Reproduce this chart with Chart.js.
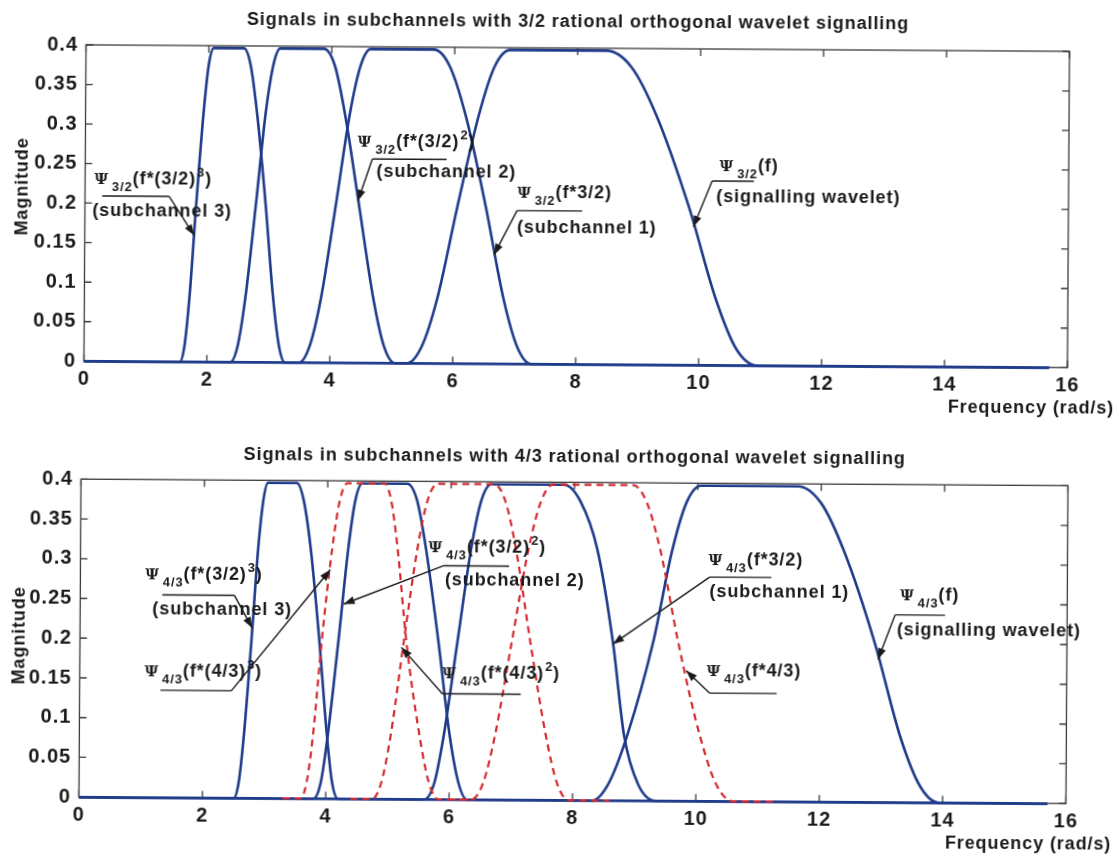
<!DOCTYPE html>
<html>
<head>
<meta charset="utf-8">
<script src="https://cdn.jsdelivr.net/npm/chart.js@4.4.1/dist/chart.umd.min.js"></script>
<style>
  html, body { margin: 0; background: #fff; }
  #page { position: relative; width: 1119px; height: 857px; transform: rotate(0.38deg); transform-origin: 559px 428px; }
  #page canvas { position: absolute; left: 0; }
  #c-top { top: 0; }
  #c-bot { top: 430px; }
</style>
</head>
<body>
<div id="page">
  <canvas id="c-top" width="1119" height="420"></canvas>
  <canvas id="c-bot" width="1119" height="427"></canvas>
</div>
<script>
// axis ticks
const freqTicks = [0, 2, 4, 6, 8, 10, 12, 14, 16];
const magTicks = [0, 0.05, 0.1, 0.15, 0.2, 0.25, 0.3, 0.35, 0.4];

// magnitude at each sample point (same wavelet shape for every curve)
const shapeMag = [0, 0, 0.021, 0.082, 0.199, 0.315, 0.376, 0.397, 0.397, 0.376, 0.315, 0.199, 0.082, 0.021, 0, 0];

// top plot, 3/2 rational wavelet (frequency of each sample)
const top32Sub3 = [0, 1.56, 1.635, 1.71, 1.81, 1.92, 2.00, 2.08, 2.57, 2.68, 2.79, 2.94, 3.07, 3.17, 3.27, 15.7];
const top32Sub2 = [0, 2.38, 2.50, 2.62, 2.78, 2.93, 3.05, 3.16, 3.87, 4.05, 4.22, 4.46, 4.70, 4.88, 5.06, 15.7];
const top32Sub1 = [0, 3.50, 3.67, 3.85, 4.08, 4.30, 4.47, 4.63, 5.66, 5.92, 6.18, 6.52, 6.82, 7.05, 7.28, 15.7];
const top32Sig  = [0, 5.25, 5.49, 5.74, 6.06, 6.40, 6.65, 6.90, 8.47, 8.88, 9.29, 9.83, 10.28, 10.61, 10.95, 15.7];

// bottom plot, 4/3 rational wavelet
const bot43Sub3 = [0, 2.51, 2.59, 2.67, 2.78, 2.88, 2.96, 3.03, 3.50, 3.61, 3.73, 3.88, 4.01, 4.10, 4.20, 15.7];
const bot43Sub2 = [0, 3.80, 3.92, 4.03, 4.19, 4.34, 4.45, 4.56, 5.29, 5.45, 5.60, 5.81, 6.00, 6.15, 6.29, 15.7];
const bot43Sub1 = [0, 5.60, 5.76, 5.91, 6.12, 6.33, 6.49, 6.65, 7.83, 8.10, 8.38, 8.64, 8.83, 9.06, 9.35, 15.7];
const bot43Sig  = [0, 8.32, 8.58, 8.88, 9.29, 9.59, 9.82, 10.05, 11.62, 12.00, 12.38, 12.89, 13.31, 13.63, 13.94, 15.7];
const bot43Red3 = [3.30, 3.59, 3.69, 3.79, 3.92, 4.08, 4.20, 4.32, 4.92, 5.03, 5.14, 5.29, 5.51, 5.67, 5.83, 6.40];
const bot43Red2 = [4.40, 4.75, 4.90, 5.05, 5.25, 5.46, 5.62, 5.78, 6.70, 6.88, 7.06, 7.30, 7.56, 7.75, 7.94, 8.60];
const bot43Red1 = [6.00, 6.36, 6.55, 6.74, 7.00, 7.26, 7.46, 7.65, 8.95, 9.17, 9.40, 9.70, 10.06, 10.33, 10.60, 11.30];

const BLUE = '#1f3b8a';
const RED = '#d42a30';
const INK = '#1a1a1a';
const FAMILY = '"Liberation Sans", Arial, sans-serif';
const MAIN_FONT = 'bold 18px ' + FAMILY;
const SMALL_FONT = 'bold 13px ' + FAMILY;
const PSI_FONT = 'bold 15px "DejaVu Serif", serif';

// curve labels: text pieces, anchor, underline, arrow tip (all in data units)
const topNotes = [
  { parts: [['Ψ', 'psi'], ['3/2', 'sub'], ['(f*(3/2)', ''], ['3', 'sup'], [')', '']], at: [0.15, 0.224],
    line2: '(subchannel 3)', at2: [0.12, 0.184], ul: [0.28, 1.37, 0.209], from: 'right', tip: [1.78, 0.16] },
  { parts: [['Ψ', 'psi'], ['3/2', 'sub'], ['(f*(3/2)', ''], ['2', 'sup'], [')', '']], at: [4.43, 0.273],
    line2: '(subchannel 2)', at2: [4.74, 0.235], ul: [4.67, 5.88, 0.258], from: 'left', tip: [4.44, 0.205] },
  { parts: [['Ψ', 'psi'], ['3/2', 'sub'], ['(f*3/2)', '']], at: [7.03, 0.21],
    line2: '(subchannel 1)', at2: [7.03, 0.166], ul: [7.03, 8.09, 0.194], from: 'left', tip: [6.66, 0.138] },
  { parts: [['Ψ', 'psi'], ['3/2', 'sub'], ['(f)', '']], at: [10.32, 0.246],
    line2: '(signalling wavelet)', at2: [10.27, 0.207], ul: [10.2, 10.88, 0.233], from: 'left', tip: [9.9, 0.175] }
];
const botNotes = [
  { parts: [['Ψ', 'psi'], ['4/3', 'sub'], ['(f*(3/2)', ''], ['3', 'sup'], [')', '']], at: [1.05, 0.275],
    line2: '(subchannel 3)', at2: [1.17, 0.231], ul: [1.33, 2.50, 0.255], from: 'right', tip: [2.79, 0.214] },
  { parts: [['Ψ', 'psi'], ['4/3', 'sub'], ['(f*(4/3)', ''], ['3', 'sup'], [')', '']], at: [1.05, 0.153],
    ul: [1.31, 2.46, 0.135], from: 'right', tip: [4.05, 0.288] },
  { parts: [['Ψ', 'psi'], ['4/3', 'sub'], ['(f*(3/2)', ''], ['2', 'sup'], [')', '']], at: [5.64, 0.311],
    line2: '(subchannel 2)', at2: [5.91, 0.27], ul: [5.88, 6.95, 0.294], from: 'left', tip: [4.27, 0.245] },
  { parts: [['Ψ', 'psi'], ['4/3', 'sub'], ['(f*(4/3)', ''], ['2', 'sup'], [')', '']], at: [5.88, 0.153],
    ul: [5.88, 7.15, 0.133], from: 'left', tip: [5.21, 0.191] },
  { parts: [['Ψ', 'psi'], ['4/3', 'sub'], ['(f*3/2)', '']], at: [10.18, 0.297],
    line2: '(subchannel 1)', at2: [10.2, 0.257], ul: [10.2, 11.2, 0.282], from: 'left', tip: [8.64, 0.197] },
  { parts: [['Ψ', 'psi'], ['4/3', 'sub'], ['(f*4/3)', '']], at: [10.16, 0.158],
    ul: [10.21, 11.30, 0.136], from: 'left', tip: [9.83, 0.164] },
  { parts: [['Ψ', 'psi'], ['4/3', 'sub'], ['(f)', '']], at: [13.29, 0.254],
    line2: '(signalling wavelet)', at2: [13.24, 0.21], ul: [13.21, 14.02, 0.236], from: 'left', tip: [12.94, 0.18] }
];

function curve(freqs, dashed) {
  return {
    data: freqs.map((f, i) => ({ x: f, y: shapeMag[i] })),
    borderColor: dashed ? RED : BLUE,
    borderWidth: dashed ? 2.2 : 2.6,
    borderDash: dashed ? [7, 5] : [],
    pointRadius: 0,
    cubicInterpolationMode: 'monotone',
    fill: false,
    clip: false,
    order: dashed ? 0 : 1
  };
}

function drawParts(ctx, x, y, parts) {
  let cx = x;
  parts.forEach(([t, kind]) => {
    if (kind === 'psi') {
      ctx.font = PSI_FONT;
      ctx.fillText(t, cx, y);
      cx += ctx.measureText(t).width + 3;
    } else if (kind === 'sub') {
      ctx.font = SMALL_FONT;
      ctx.fillText(t, cx, y + 7);
      cx += ctx.measureText(t).width;
    } else if (kind === 'sup') {
      ctx.font = SMALL_FONT;
      ctx.fillText(t, cx + 1, y - 8);
      cx += ctx.measureText(t).width + 1;
    } else {
      ctx.font = MAIN_FONT;
      ctx.fillText(t, cx, y);
      cx += ctx.measureText(t).width;
    }
  });
}

function arrow(ctx, x0, y0, x1, y1) {
  ctx.beginPath();
  ctx.moveTo(x0, y0);
  ctx.lineTo(x1, y1);
  ctx.stroke();
  const ang = Math.atan2(y1 - y0, x1 - x0);
  ctx.beginPath();
  ctx.moveTo(x1, y1);
  ctx.lineTo(x1 - 11 * Math.cos(ang) + 4 * Math.sin(ang), y1 - 11 * Math.sin(ang) - 4 * Math.cos(ang));
  ctx.lineTo(x1 - 11 * Math.cos(ang) - 4 * Math.sin(ang), y1 - 11 * Math.sin(ang) + 4 * Math.cos(ang));
  ctx.closePath();
  ctx.fill();
}

const matlabLook = {
  id: 'matlabLook',
  beforeDraw(chart) {
    // scanned figure text is wide: space the tick labels out a little
    chart.ctx.letterSpacing = '1px';
  },
  beforeDatasetsDraw(chart) {
    const { ctx, chartArea: a, scales: { x, y } } = chart;
    ctx.save();
    ctx.strokeStyle = '#3a3a3a';
    ctx.lineWidth = 1.3;
    ctx.strokeRect(a.left, a.top, a.right - a.left, a.bottom - a.top);
    ctx.beginPath();
    x.ticks.forEach(t => {
      const p = x.getPixelForValue(t.value);
      ctx.moveTo(p, a.bottom); ctx.lineTo(p, a.bottom - 7);
      ctx.moveTo(p, a.top); ctx.lineTo(p, a.top + 7);
    });
    y.ticks.forEach(t => {
      const p = y.getPixelForValue(t.value);
      ctx.moveTo(a.left, p); ctx.lineTo(a.left + 7, p);
      ctx.moveTo(a.right, p); ctx.lineTo(a.right - 7, p);
    });
    ctx.stroke();
    ctx.restore();
  },
  afterDatasetsDraw(chart, args, opts) {
    const { ctx, chartArea: a, scales: { x, y } } = chart;
    ctx.save();
    ctx.letterSpacing = '0.9px';
    ctx.fillStyle = INK;
    ctx.strokeStyle = INK;
    ctx.lineWidth = 1.4;
    ctx.textBaseline = 'alphabetic';

    // title
    ctx.font = MAIN_FONT;
    ctx.textAlign = 'center';
    ctx.fillText(opts.title, (a.left + a.right) / 2, opts.titleY);

    // axis titles
    ctx.textAlign = 'right';
    ctx.fillText('Frequency (rad/s)', 1114, a.bottom + 46);
    ctx.save();
    ctx.translate(26, opts.magY);
    ctx.rotate(-Math.PI / 2);
    ctx.textAlign = 'center';
    ctx.fillText('Magnitude', 0, 0);
    ctx.restore();

    // curve labels
    ctx.textAlign = 'left';
    opts.notes.forEach(n => {
      drawParts(ctx, x.getPixelForValue(n.at[0]), y.getPixelForValue(n.at[1]), n.parts);
      if (n.line2) {
        ctx.font = MAIN_FONT;
        ctx.fillText(n.line2, x.getPixelForValue(n.at2[0]), y.getPixelForValue(n.at2[1]));
      }
      const ux0 = x.getPixelForValue(n.ul[0]);
      const ux1 = x.getPixelForValue(n.ul[1]);
      const uy = y.getPixelForValue(n.ul[2]);
      ctx.beginPath();
      ctx.moveTo(ux0, uy);
      ctx.lineTo(ux1, uy);
      ctx.stroke();
      const sx = n.from === 'right' ? ux1 : ux0;
      arrow(ctx, sx, uy, x.getPixelForValue(n.tip[0]), y.getPixelForValue(n.tip[1]));
    });
    ctx.restore();
  }
};

function makeChart(id, datasets, pad, title, titleY, magY, notes) {
  const tickFont = { family: FAMILY, size: 20, weight: 'bold' };
  return new Chart(document.getElementById(id), {
    type: 'line',
    data: { datasets },
    plugins: [matlabLook],
    options: {
      responsive: false,
      animation: false,
      events: [],
      layout: { padding: pad },
      plugins: {
        legend: { display: false },
        tooltip: { enabled: false },
        matlabLook: { title, titleY, magY, notes }
      },
      scales: {
        x: {
          type: 'linear', min: 0, max: 16,
          afterBuildTicks: s => { s.ticks = freqTicks.map(v => ({ value: v })); },
          afterFit: s => { s.height = 30; },
          grid: { display: false, drawTicks: false },
          border: { display: false },
          ticks: { color: INK, font: tickFont, padding: 6, maxRotation: 0, autoSkip: false, callback: v => String(v) }
        },
        y: {
          type: 'linear', min: 0, max: 0.4,
          afterBuildTicks: s => { s.ticks = magTicks.map(v => ({ value: v })); },
          afterFit: s => { s.width = 60; },
          grid: { display: false, drawTicks: false },
          border: { display: false },
          ticks: { color: INK, font: tickFont, padding: 8, autoSkip: false, callback: v => String(v) }
        }
      }
    }
  });
}

makeChart('c-top',
  [curve(top32Sub3), curve(top32Sub2), curve(top32Sub1), curve(top32Sig)],
  { left: 23.5, right: 52, top: 48, bottom: 25.7 },
  'Signals in subchannels with 3/2 rational orthogonal wavelet signalling', 27, 190, topNotes);

makeChart('c-bot',
  [curve(bot43Sub3), curve(bot43Sub2), curve(bot43Sub1), curve(bot43Sig),
   curve(bot43Red3, true), curve(bot43Red2, true), curve(bot43Red1, true)],
  { left: 21.4, right: 50.6, top: 52.3, bottom: 26.8 },
  'Signals in subchannels with 4/3 rational orthogonal wavelet signalling', 32, 209, botNotes);
</script>
</body>
</html>
